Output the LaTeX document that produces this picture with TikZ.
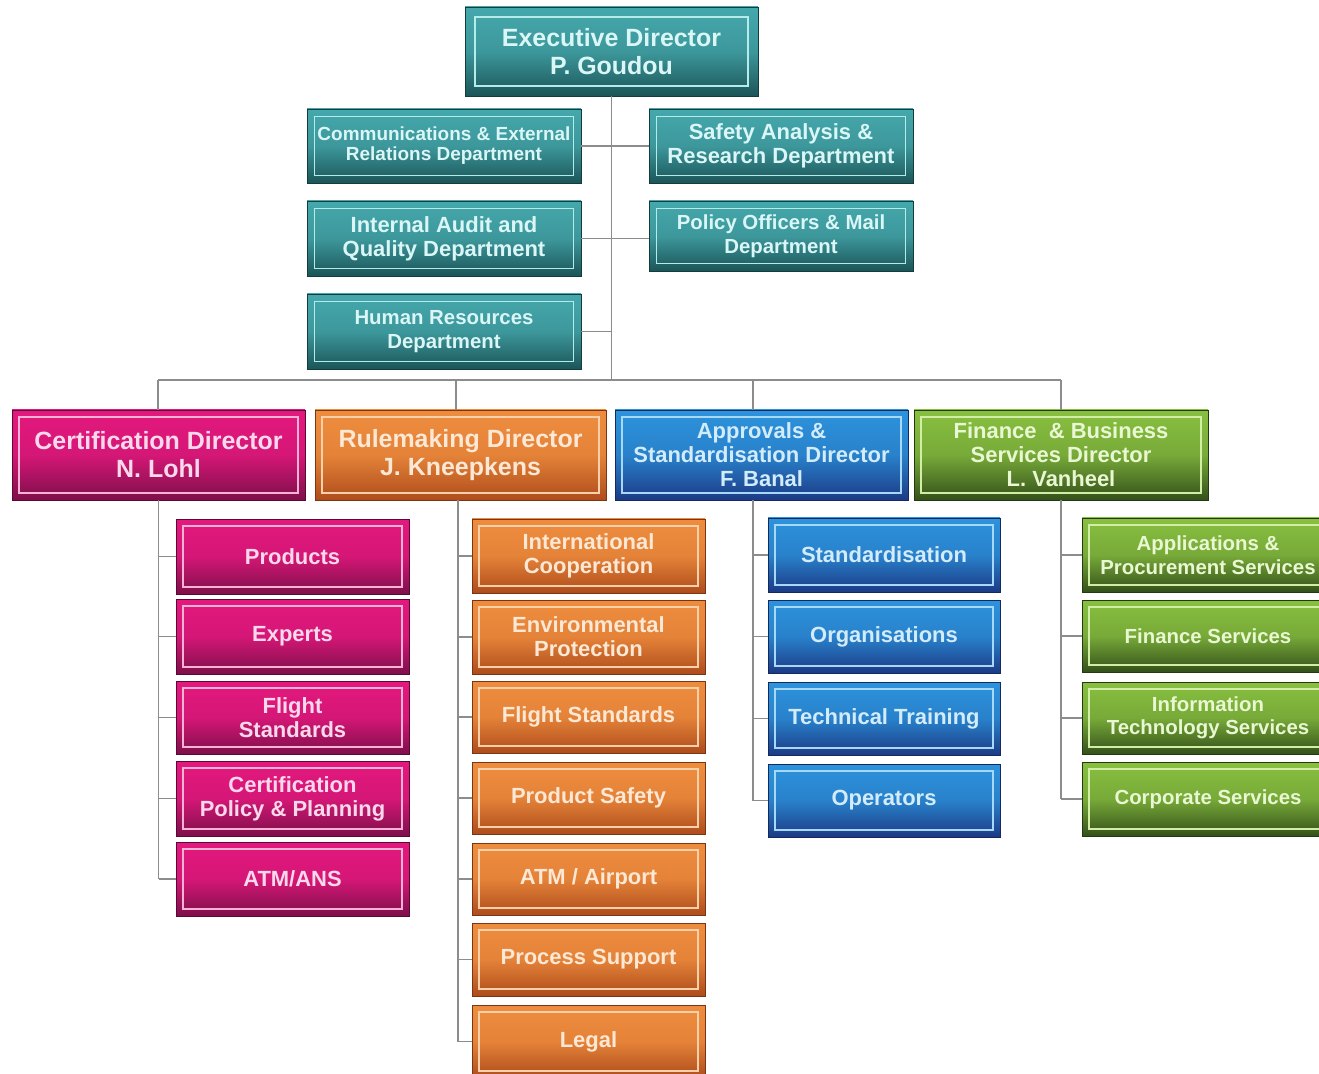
\documentclass[tikz,border=0pt]{standalone}
\usepackage{fontspec}
\setmainfont{Liberation Sans}
\definecolor{tealT}{HTML}{45A8AC}
\definecolor{tealB}{HTML}{1B5558}
\definecolor{tealF}{HTML}{B4ECEC}
\definecolor{magT}{HTML}{E4187E}
\definecolor{magB}{HTML}{7E0F4A}
\definecolor{magF}{HTML}{F8B2D6}
\definecolor{oraT}{HTML}{EE8C3E}
\definecolor{oraB}{HTML}{AE4C1C}
\definecolor{oraF}{HTML}{FAD0AA}
\definecolor{bluT}{HTML}{2C93DC}
\definecolor{bluB}{HTML}{1C3A86}
\definecolor{bluF}{HTML}{A6D8F8}
\definecolor{grnT}{HTML}{88C040}
\definecolor{grnB}{HTML}{34501A}
\definecolor{grnF}{HTML}{D2EEA4}
\definecolor{linecol}{HTML}{8C8C8C}
\tikzset{
  obox/.style={inner sep=0pt, outer sep=0pt, align=center, font=\bfseries\fontsize{12.5}{13.6}\selectfont},
  frm/.style n args={2}{path picture={\draw[#1, line width=0.8pt]
      ([shift={(#2,-#2)}]path picture bounding box.north west) rectangle
      ([shift={(-#2,#2)}]path picture bounding box.south east);}},
  tealbox/.style={obox, top color=tealT, bottom color=tealB, middle color=tealT!80!tealB,
      draw=tealB!70!black, text=tealF!50!white, frm={tealF}{0.15cm}},
  magbox/.style={obox, top color=magT, bottom color=magB, middle color=magT!85!magB,
      draw=magB!70!black, text=magF!50!white, frm={magF}{0.14cm}},
  orabox/.style={obox, top color=oraT, bottom color=oraB, middle color=oraT!85!oraB,
      draw=oraB!70!black, text=oraF!50!white, frm={oraF}{0.14cm}},
  blubox/.style={obox, top color=bluT, bottom color=bluB, middle color=bluT!80!bluB,
      draw=bluB!70!black, text=bluF!50!white, frm={bluF}{0.14cm}},
  grnbox/.style={obox, top color=grnT, bottom color=grnB, middle color=grnT!80!grnB,
      draw=grnB!70!black, text=grnF!50!white, frm={grnF}{0.14cm}},
  conn/.style={draw=linecol, line width=1.1pt},
  fbig/.style={font=\bfseries\fontsize{14.2}{16}\selectfont},
  fsmall/.style={font=\bfseries\fontsize{11.6}{13.4}\selectfont},
  ftiny/.style={font=\bfseries\fontsize{10.8}{11.4}\selectfont},
}
\newcommand\bx[8][]{\node[#3, minimum width={(#6-#4)*0.02cm}, minimum height={(#7-#5)*0.02cm}, #1]
  (#2) at ({(#4+#6)/2},{(#5+#7)/2}) {#8};}
\begin{document}
\begin{tikzpicture}[x=0.02cm, y=-0.02cm]
\useasboundingbox (0,0) rectangle (1319,1074);
\clip (0,0) rectangle (1319,1074);
\fill[white] (0,0) rectangle (1319,1074);

% ---- coordinates for the bus
\coordinate (busL) at (158,380);
\coordinate (busR) at (1061,380);
\coordinate (dR) at (456,380);
\coordinate (dA) at (753,380);

% ---- teal top level
\bx[fbig, frm={tealF}{0.2cm}]{exec}{tealbox}{465}{7}{758}{96}{Executive Director\\P. Goudou}
\bx[ftiny]{comm}{tealbox}{307}{109}{581}{183}{Communications \& External\\Relations Department}
\bx{safety}{tealbox}{649}{109}{913}{183}{Safety Analysis \&\\Research Department}
\bx{audit}{tealbox}{307}{201}{581}{276}{Internal Audit and\\Quality Department}
\bx[fsmall]{policy}{tealbox}{649}{201}{913}{271}{Policy Officers \& Mail\\Department}
\bx[fsmall]{hr}{tealbox}{307}{294}{581}{369}{Human Resources\\Department}

% ---- directors
\bx[fbig]{cert}{magbox}{12}{410}{305}{500}{Certification Director\\N. Lohl}
\bx[fbig]{rule}{orabox}{315}{410}{606}{500}{Rulemaking Director\\J. Kneepkens}
\bx{appr}{blubox}{615}{410}{908}{500}{Approvals \&\\Standardisation Director\\F. Banal}
\bx{fin}{grnbox}{914}{410}{1208}{500}{Finance \ \& Business\\Services Director\\L. Vanheel}

% ---- certification children
\bx{cp}{magbox}{176}{519}{409}{594}{Products}
\bx{ce}{magbox}{176}{599}{409}{674}{Experts}
\bx{cf}{magbox}{176}{681}{409}{754}{Flight\\Standards}
\bx{cc}{magbox}{176}{761}{409}{836}{Certification\\Policy \& Planning}
\bx{ca}{magbox}{176}{842}{409}{916}{ATM/ANS}

% ---- rulemaking children
\bx{ri}{orabox}{472}{519}{705}{593}{International\\Cooperation}
\bx{re}{orabox}{472}{600}{705}{674}{Environmental\\Protection}
\bx{rf}{orabox}{472}{681}{705}{753}{Flight Standards}
\bx{rp}{orabox}{472}{762}{705}{834}{Product Safety}
\bx{ra}{orabox}{472}{843}{705}{915}{ATM / Airport}
\bx{rs}{orabox}{472}{923}{705}{996}{Process Support}
\bx{rl}{orabox}{472}{1005}{705}{1078}{Legal}

% ---- approvals children
\bx{as}{blubox}{768}{518}{1000}{592}{Standardisation}
\bx{ao}{blubox}{768}{600}{1000}{673}{Organisations}
\bx{at}{blubox}{768}{682}{1000}{755}{Technical Training}
\bx{ap}{blubox}{768}{764}{1000}{837}{Operators}

% ---- finance children
\bx[fsmall]{fa}{grnbox}{1082}{518}{1334}{592}{Applications \&\\Procurement Services}
\bx[fsmall]{ff}{grnbox}{1082}{600}{1334}{672}{Finance Services}
\bx[fsmall]{fi}{grnbox}{1082}{682}{1334}{754}{Information\\Technology Services}
\bx[fsmall]{fc}{grnbox}{1082}{762}{1334}{836}{Corporate Services}

% ---- connectors, top part
\draw[conn] (exec.south) -- (exec.south |- busL);
\draw[conn] (comm.east) -- (safety.west);
\draw[conn] (audit.east) -- (audit.east -| policy.west);
\draw[conn] (hr.east) -- (hr.east -| exec.south);
\draw[conn] (busL) -- (busR);
\draw[conn] (busL) -- (busL |- cert.north);
\draw[conn] (dR) -- (dR |- rule.north);
\draw[conn] (dA) -- (dA |- appr.north);
\draw[conn] (busR) -- (busR |- fin.north);

% ---- children connectors
\draw[conn] (cert.south) -- (cert.south |- ca.west);
\foreach \c in {cp,ce,cf,cc,ca} \draw[conn] (cert.south |- \c.west) -- (\c.west);
\coordinate (rT) at (458,500);
\draw[conn] (rT) -- (rT |- rl.west);
\foreach \c in {ri,re,rf,rp,ra,rs,rl} \draw[conn] (rT |- \c.west) -- (\c.west);
\coordinate (aT) at (dA |- appr.south);
\draw[conn] (aT) -- (aT |- ap.west);
\foreach \c in {as,ao,at,ap} \draw[conn] (aT |- \c.west) -- (\c.west);
\draw[conn] (fin.south) -- (fin.south |- fc.west);
\foreach \c in {fa,ff,fi,fc} \draw[conn] (fin.south |- \c.west) -- (\c.west);
\end{tikzpicture}
\end{document}
